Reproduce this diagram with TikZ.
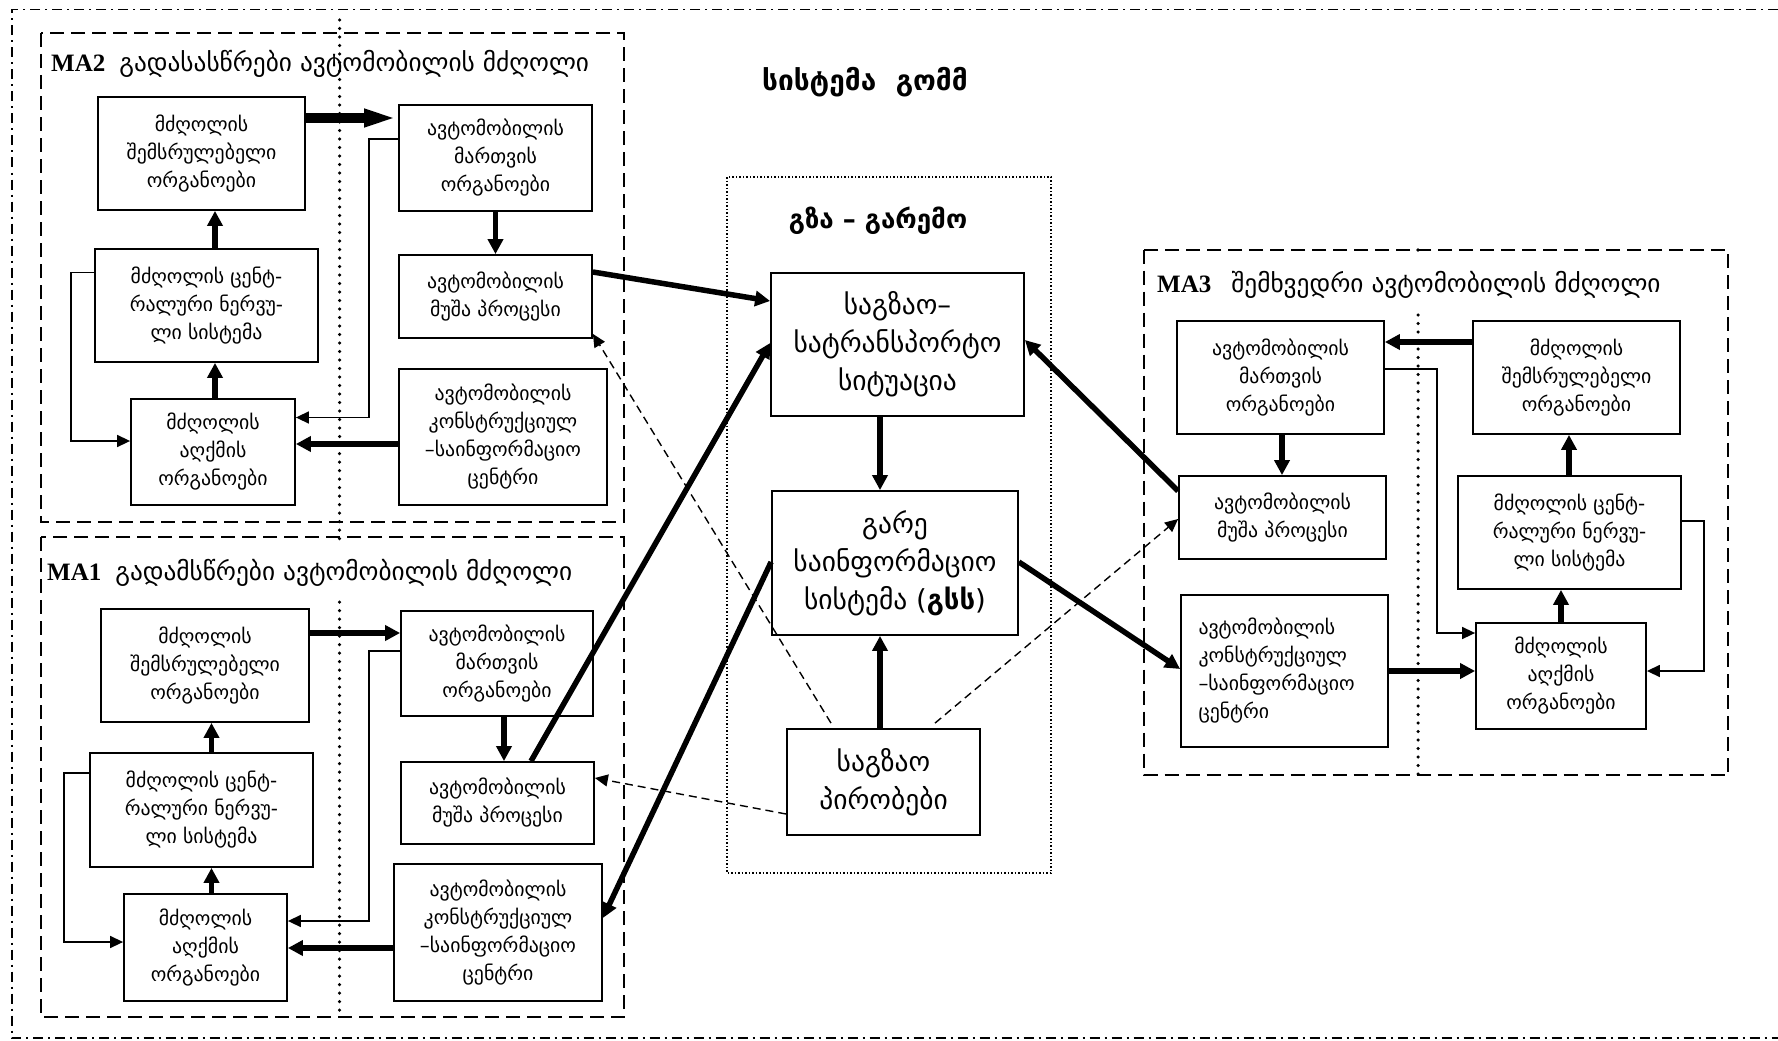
\documentclass[tikz,border=0pt]{standalone}
\usepackage{fontspec}
\setmainfont{DejaVu Sans}
\newfontfamily\latser{Liberation Serif}
\usetikzlibrary{arrows.meta}
\begin{document}
\begin{tikzpicture}[x=1pt,y=-1pt,
  box/.style={draw, line width=1.8pt, inner sep=0pt, align=center, font=\fontsize{19.8}{28}\selectfont},
  bx/.style 2 args={box, minimum width=#1pt, minimum height=#2pt},
  bigbx/.style 2 args={box, minimum width=#1pt, minimum height=#2pt, font=\fontsize{27.5}{38}\selectfont},
  thk/.style={line width=5.5pt, -{Triangle[length=15pt,width=15pt]}},
  thkk/.style={line width=10pt, -{Triangle[length=34pt,width=16pt]}},
  thn/.style={line width=1.5pt, -{Triangle[length=13pt,width=12pt]}},
  dsh/.style={line width=1.4pt, dash pattern=on 8pt off 5pt, -{Triangle[length=13pt,width=12pt]}},
  mabox/.style={line width=2pt, dash pattern=on 14pt off 7pt},
  gzbox/.style={line width=1.2pt, dash pattern=on 1.5pt off 2pt},
  sepline/.style={line width=3.5pt, dash pattern=on 0pt off 8.5pt, line cap=round},
  frame/.style={line width=1.5pt, dash pattern=on 10pt off 5pt on 2pt off 5pt},
  malabel/.style={anchor=base west, inner sep=0pt, font=\fontsize{25.3}{30}\selectfont}
]
\useasboundingbox (0,0) rectangle (1778,1041);
% outer frame
\draw[frame] (1778,9.5) -- (12,9.5) -- (12,1038) -- (1778,1038);
% group frames
\draw[mabox] (41,33) rectangle (624,522);
\draw[mabox] (41,537) rectangle (624,1017);
\draw[mabox] (1144,249.5) rectangle (1728,775);
\draw[gzbox] (727,177) rectangle (1051,873);
% separators
\draw[sepline] (339.5,20) -- (339.5,540);
\draw[sepline] (339.5,602) -- (339.5,1012);
\draw[sepline] (1418,315) -- (1418,779);
\fill (1418,250) circle (1.8pt);
% titles
\node[anchor=base, inner sep=0pt, font=\fontsize{28}{32}\selectfont\bfseries] (title) at (865,90) {სისტემა\ \ გომმ};
\node[anchor=base, inner sep=0pt, font=\fontsize{26}{30}\selectfont\bfseries] (env) at (878,228) {გზა – გარემო};
\node[malabel] (l2) at (51,72) {{\latser\bfseries\fontsize{25}{26}\selectfont MA2}\hspace{14pt}გადასასწრები ავტომობილის მძღოლი};
\node[malabel] (l1) at (47,580) {{\latser\bfseries\fontsize{25}{26}\selectfont MA1}\hspace{14pt}გადამსწრები ავტომობილის მძღოლი};
\node[malabel] (l3) at (1157,292.6) {{\latser\bfseries\fontsize{25}{26}\selectfont MA3}\hspace{20pt}შემხვედრი ავტომობილის მძღოლი};
% MA2 boxes
\node[bx={207}{113}] (A2) at (201.5,153.5) {მძღოლის\\შემსრულებელი\\ორგანოები};
\node[bx={193}{106}] (B2) at (495.5,158) {ავტომობილის\\მართვის\\ორგანოები};
\node[bx={223}{113}] (C2) at (206.5,305.5) {მძღოლის ცენტ-\\რალური ნერვუ-\\ლი სისტემა};
\node[bx={193}{83}] (D2) at (495.5,296.5) {ავტომობილის\\მუშა პროცესი};
\node[bx={164}{106}] (E2) at (213,452) {მძღოლის\\აღქმის\\ორგანოები};
\node[bx={208}{136}] (F2) at (503,437) {ავტომობილის\\კონსტრუქციულ\\–საინფორმაციო\\ცენტრი};
% MA1 boxes
\node[bx={208}{113}] (A1) at (205,665.5) {მძღოლის\\შემსრულებელი\\ორგანოები};
\node[bx={192}{105}] (B1) at (497,663.5) {ავტომობილის\\მართვის\\ორგანოები};
\node[bx={223}{114}] (C1) at (201.5,810) {მძღოლის ცენტ-\\რალური ნერვუ-\\ლი სისტემა};
\node[bx={193}{82}] (D1) at (497.5,803) {ავტომობილის\\მუშა პროცესი};
\node[bx={163}{107}] (E1) at (205.5,947.5) {მძღოლის\\აღქმის\\ორგანოები};
\node[bx={208}{137}] (F1) at (498,932.5) {ავტომობილის\\კონსტრუქციულ\\–საინფორმაციო\\ცენტრი};
% centre boxes
\node[bigbx={253}{143}] (S) at (897.5,344.5) {საგზაო–\\სატრანსპორტო\\სიტუაცია};
\node[bigbx={246}{144}] (G) at (895,563) {გარე\\საინფორმაციო\\სისტემა ({\bfseries გსს})};
\node[bigbx={193}{106}] (P) at (883.5,782) {საგზაო\\პირობები};
% MA3 boxes
\node[bx={207}{113}] (B3) at (1280.5,377.5) {ავტომობილის\\მართვის\\ორგანოები};
\node[bx={207}{113}] (A3) at (1576.5,377.5) {მძღოლის\\შემსრულებელი\\ორგანოები};
\node[bx={207}{83}] (D3) at (1282.5,517.5) {ავტომობილის\\მუშა პროცესი};
\node[bx={223}{113}] (C3) at (1569.5,532.5) {მძღოლის ცენტ-\\რალური ნერვუ-\\ლი სისტემა};
\node[bx={207}{152}, align=left, text width=172pt] (F3) at (1284.5,671) {ავტომობილის\\კონსტრუქციულ\\–საინფორმაციო\\ცენტრი};
\node[bx={170}{106}] (E3) at (1561,676) {მძღოლის\\აღქმის\\ორგანოები};
% helper coordinates
\coordinate (y118) at (0,118);
\coordinate (x215) at (215,0);
\coordinate (y444) at (0,444);
\coordinate (m2a) at (369,139); \coordinate (m2b) at (369,417.5);
\coordinate (m2c) at (71,272.5); \coordinate (m2d) at (71,441);
\coordinate (y633) at (0,633);
\coordinate (x504) at (504,0);
\coordinate (x211) at (211.5,0);
\coordinate (y948) at (0,948);
\coordinate (m1a) at (369,651); \coordinate (m1b) at (369,921);
\coordinate (m1c) at (64,773); \coordinate (m1d) at (64,942);
\coordinate (y342) at (0,342);
\coordinate (x1282) at (1282,0);
\coordinate (x1569) at (1569,0);
\coordinate (x1561) at (1561,0);
\coordinate (y671) at (0,671);
\coordinate (m3a) at (1437,369); \coordinate (m3b) at (1437,633);
\coordinate (m3c) at (1704,521); \coordinate (m3d) at (1704,671);
\coordinate (x880) at (880,0);
\coordinate (y272) at (0,272); \coordinate (y301) at (0,301);
\coordinate (x531) at (531,0); \coordinate (y343) at (0,343);
\coordinate (y491) at (0,491); \coordinate (y340) at (0,340);
\coordinate (y562) at (0,562); \coordinate (y918) at (0,918); \coordinate (y669) at (0,669);
\coordinate (x831) at (831,0); \coordinate (x935) at (935,0);
\coordinate (y519) at (0,519); \coordinate (y814) at (0,814); \coordinate (y778) at (0,778);
% MA2 connectors
\draw[thkk] (A2.east |- y118) -- (B2.west |- y118);
\draw[thk] (B2.south) -- (D2.north);
\draw[thk] (C2.north -| x215) -- (A2.south -| x215);
\draw[thk] (E2.north -| x215) -- (C2.south -| x215);
\draw[thk] (F2.west |- y444) -- (E2.east |- y444);
\draw[thn] (B2.west |- m2a) -- (m2a) -- (m2b) -- (E2.east |- m2b);
\draw[thn] (C2.west |- m2c) -- (m2c) -- (m2d) -- (E2.west |- m2d);
% MA1 connectors
\draw[thk] (A1.east |- y633) -- (B1.west |- y633);
\draw[thk] (B1.south -| x504) -- (D1.north -| x504);
\draw[thk] (C1.north -| x211) -- (A1.south -| x211);
\draw[thk] (E1.north -| x211) -- (C1.south -| x211);
\draw[thk] (F1.west |- y948) -- (E1.east |- y948);
\draw[thn] (B1.west |- m1a) -- (m1a) -- (m1b) -- (E1.east |- m1b);
\draw[thn] (C1.west |- m1c) -- (m1c) -- (m1d) -- (E1.west |- m1d);
% MA3 connectors
\draw[thk] (A3.west |- y342) -- (B3.east |- y342);
\draw[thk] (B3.south -| x1282) -- (D3.north -| x1282);
\draw[thk] (C3.north -| x1569) -- (A3.south -| x1569);
\draw[thk] (E3.north -| x1561) -- (C3.south -| x1561);
\draw[thk] (F3.east |- y671) -- (E3.west |- y671);
\draw[thn] (B3.east |- m3a) -- (m3a) -- (m3b) -- (E3.west |- m3b);
\draw[thn] (C3.east |- m3c) -- (m3c) -- (m3d) -- (E3.east |- m3d);
% centre connectors
\draw[thk] (S.south -| x880) -- (G.north -| x880);
\draw[thk] (P.north -| x880) -- (G.south -| x880);
\draw[thk] (D2.east |- y272) -- (S.west |- y301);
\draw[thk] (D1.north -| x531) -- (S.west |- y343);
\draw[thk] (D3.west |- y491) -- (S.east |- y340);
\draw[thk] (G.west |- y562) -- (F1.east |- y918);
\draw[thk] (G.east |- y562) -- (F3.west |- y669);
\draw[dsh] ([yshift=5pt]P.north -| x831) -- ([yshift=5pt]D2.south east);
\draw[dsh] ([yshift=5pt]P.north -| x935) -- (D3.west |- y519);
\draw[dsh] (P.west |- y814) -- (D1.east |- y778);
\end{tikzpicture}
\end{document}
